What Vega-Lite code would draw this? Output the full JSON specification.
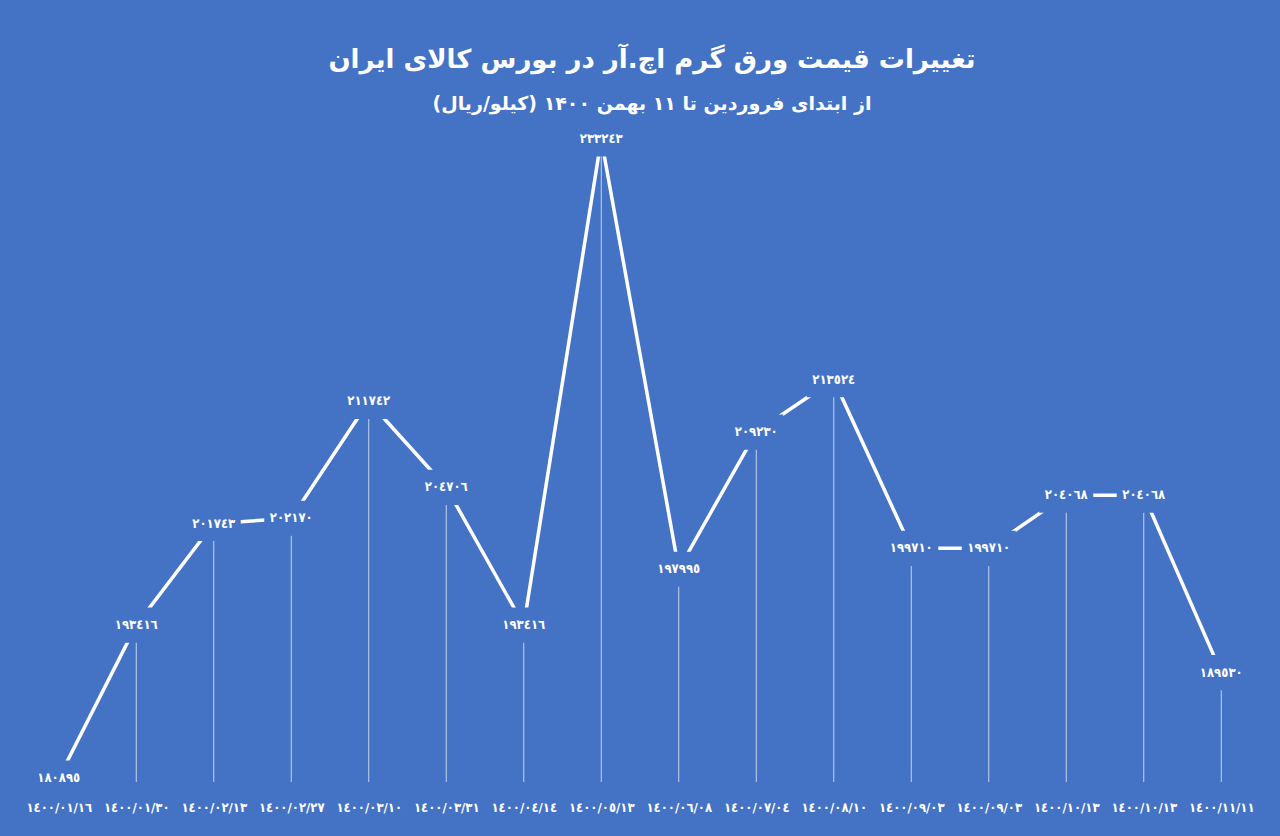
{
  "$schema": "https://vega.github.io/schema/vega-lite/v6.json",
  "width": 1240,
  "height": 652,
  "autosize": {"type": "none"},
  "padding": {"left": 20, "top": 130, "right": 20, "bottom": 54},
  "background": "#4472C4",
  "title": {
    "text": "تغییرات قیمت ورق گرم اچ.آر در بورس کالای ایران",
    "subtitle": "از ابتدای فروردین تا ۱۱ بهمن ۱۴۰۰ (کیلو/ریال)\u200f",
    "anchor": "middle",
    "frame": "group",
    "dx": 12,
    "color": "white",
    "subtitleColor": "white",
    "font": "DejaVu Sans",
    "subtitleFont": "DejaVu Sans",
    "fontSize": 26,
    "subtitleFontSize": 19,
    "fontWeight": "bold",
    "subtitleFontWeight": "bold",
    "offset": 7,
    "subtitlePadding": 22
  },
  "config": {"view": {"stroke": null}},
  "data": {
    "values": [
      {"date": "١٤٠٠/٠١/١٦", "price": 180895, "label": "١٨٠٨٩٥"},
      {"date": "١٤٠٠/٠١/٣٠", "price": 193416, "label": "١٩٣٤١٦"},
      {"date": "١٤٠٠/٠٢/١٣", "price": 201743, "label": "٢٠١٧٤٣"},
      {"date": "١٤٠٠/٠٢/٢٧", "price": 202170, "label": "٢٠٢١٧٠"},
      {"date": "١٤٠٠/٠٣/١٠", "price": 211742, "label": "٢١١٧٤٢"},
      {"date": "١٤٠٠/٠٣/٣١", "price": 204706, "label": "٢٠٤٧٠٦"},
      {"date": "١٤٠٠/٠٤/١٤", "price": 193416, "label": "١٩٣٤١٦"},
      {"date": "١٤٠٠/٠٥/١٣", "price": 233243, "label": "٢٣٣٢٤٣"},
      {"date": "١٤٠٠/٠٦/٠٨", "price": 197995, "label": "١٩٧٩٩٥"},
      {"date": "١٤٠٠/٠٧/٠٤", "price": 209230, "label": "٢٠٩٢٣٠"},
      {"date": "١٤٠٠/٠٨/١٠", "price": 213524, "label": "٢١٣٥٢٤"},
      {"date": "١٤٠٠/٠٩/٠٣", "price": 199710, "label": "١٩٩٧١٠"},
      {"date": "١٤٠٠/٠٩/٠٣\u200b", "price": 199710, "label": "١٩٩٧١٠"},
      {"date": "١٤٠٠/١٠/١٣", "price": 204068, "label": "٢٠٤٠٦٨"},
      {"date": "١٤٠٠/١٠/١٣\u200b", "price": 204068, "label": "٢٠٤٠٦٨"},
      {"date": "١٤٠٠/١١/١١", "price": 189530, "label": "١٨٩٥٣٠"}
    ]
  },
  "encoding": {
    "x": {
      "field": "date",
      "type": "ordinal",
      "sort": null,
      "scale": {"type": "point", "padding": 0.5},
      "axis": {
        "title": null,
        "domain": false,
        "ticks": false,
        "grid": false,
        "labelAngle": 0,
        "labelColor": "white",
        "labelFont": "DejaVu Sans Condensed, DejaVu Sans",
        "labelFontSize": 13,
        "labelFontWeight": "bold",
        "labelPadding": 19,
        "labelOverlap": false
      }
    },
    "y": {
      "field": "price",
      "type": "quantitative",
      "scale": {"domain": [180567, 233981], "zero": false, "nice": false},
      "axis": null
    }
  },
  "layer": [
    {
      "mark": {"type": "rule", "color": "white", "strokeWidth": 1, "opacity": 0.7},
      "encoding": {"y2": {"datum": 180567}}
    },
    {
      "mark": {"type": "line", "color": "white", "strokeWidth": 3.5}
    },
    {
      "mark": {
        "type": "point",
        "shape": "M-1,-0.65H1V0.65H-1Z",
        "size": 2916,
        "filled": true,
        "color": "#4472C4",
        "opacity": 1,
        "strokeWidth": 0
      }
    },
    {
      "mark": {
        "type": "text",
        "color": "white",
        "font": "DejaVu Sans Condensed, DejaVu Sans",
        "fontSize": 13,
        "fontWeight": "bold",
        "baseline": "middle",
        "align": "center"
      },
      "encoding": {"text": {"field": "label"}}
    }
  ]
}
